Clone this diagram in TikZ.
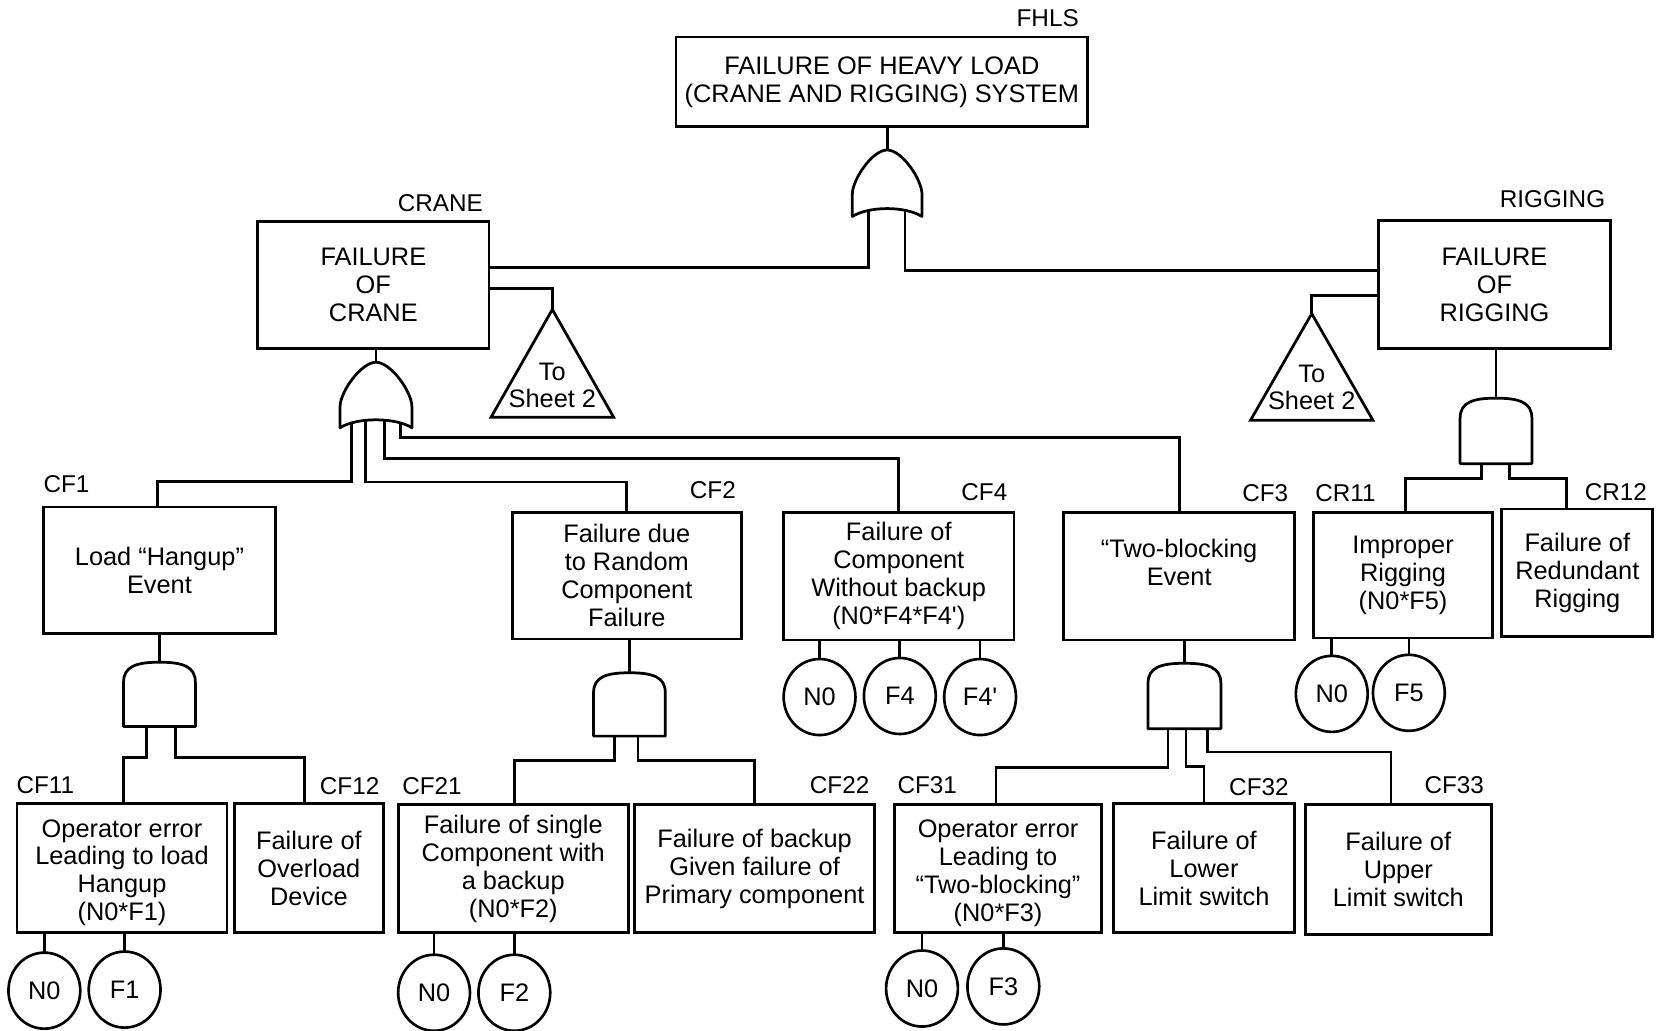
\documentclass[tikz,border=0pt]{standalone}
\usepackage{fontspec}
\setmainfont{Liberation Sans}
\usetikzlibrary{shapes.geometric}
\tikzset{
  box/.style={draw, line width=2.6pt, rectangle, inner sep=0pt, outer sep=0pt, align=center, font=\fontsize{24}{26.5}\selectfont},
  lbl/.style={inner sep=0pt, font=\fontsize{23}{26}\selectfont},
  evt/.style={draw, ellipse, line width=2.5pt, minimum width=68pt, minimum height=72pt, inner sep=0pt, outer sep=0pt, font=\fontsize{24}{26}\selectfont},
  gatebox/.style={minimum width=68pt, minimum height=62pt, inner sep=0pt, outer sep=0pt},
  gateline/.style={draw=black, fill=white, line width=2.6pt, line join=round},
  conn/.style={line width=2.6pt},
  tritext/.style={inner sep=0pt, align=center, font=\fontsize{24}{25.5}\selectfont},
  triline/.style={line width=2.6pt, line join=miter},
}
\newcommand\orshape[1]{\draw[gateline] (#1.north) .. controls ([xshift=-14pt]#1.north) and ([yshift=-28pt]#1.north west) .. ([yshift=-42pt]#1.north west) -- (#1.south west) .. controls ([xshift=16pt,yshift=10pt]#1.south west) and ([xshift=-16pt,yshift=10pt]#1.south east) .. (#1.south east) -- ([yshift=-42pt]#1.north east) .. controls ([yshift=-28pt]#1.north east) and ([xshift=14pt]#1.north) .. (#1.north) -- cycle;}
\newcommand\andshape[1]{\draw[gateline] (#1.south west) -- ([yshift=-19pt]#1.north west) .. controls ([yshift=-4pt]#1.north west) and ([xshift=12pt]#1.north west) .. (#1.north) .. controls ([xshift=-12pt]#1.north east) and ([yshift=-4pt]#1.north east) .. ([yshift=-19pt]#1.north east) -- (#1.south east) -- cycle;}
\begin{document}
\begin{tikzpicture}[x=1pt, y=-1pt]
\fill[white] (0,0) rectangle (1568,976);
\useasboundingbox (0,0) rectangle (1568,976);

% ---------- boxes ----------
\node[box, minimum width=390pt, minimum height=85pt] (fhls) at (835,77.5) {FAILURE OF HEAVY LOAD\\(CRANE AND RIGGING) SYSTEM};
\node[box, minimum width=219pt, minimum height=120pt] (crane) at (353.5,270) {FAILURE\\OF\\CRANE};
\node[box, minimum width=220pt, minimum height=121pt] (rigging) at (1415,269.5) {FAILURE\\OF\\RIGGING};
\node[box, minimum width=220pt, minimum height=120pt] (cf1) at (151,540) {Load “Hangup”\\Event};
\node[box, minimum width=217pt, minimum height=120pt] (cf2) at (593.5,545) {Failure due\\to Random\\Component\\Failure};
\node[box, minimum width=218pt, minimum height=121pt] (cf4) at (851,545.5) {Failure of\\Component\\Without backup\\(N0*F4*F4\textquotesingle)};
\node[box, minimum width=219pt, minimum height=121pt] (cf3) at (1116.5,545.5) {“Two-blocking\\Event\\\mbox{}};
\node[box, minimum width=169pt, minimum height=119pt] (cr11) at (1328.5,544.5) {Improper\\Rigging\\(N0*F5)};
\node[box, minimum width=143pt, minimum height=121pt] (cr12) at (1493.5,542.5) {Failure of\\Redundant\\Rigging};
\node[box, minimum width=199pt, minimum height=122pt] (cf11) at (115.5,822) {\mbox{}\\[-1pt]Operator error\\Leading to load\\Hangup\\(N0*F1)};
\node[box, minimum width=141pt, minimum height=122pt] (cf12) at (292.5,822) {Failure of\\Overload\\Device};
\node[box, minimum width=218pt, minimum height=121pt] (cf21) at (486,822.5) {Failure of single\\Component with\\a backup\\(N0*F2)};
\node[box, minimum width=227pt, minimum height=121pt] (cf22) at (714.5,822.5) {Failure of backup\\Given failure of\\Primary component};
\node[box, minimum width=196pt, minimum height=121pt] (cf31) at (945,822.5) {\mbox{}\\[-1pt]Operator error\\Leading to\\“Two-blocking”\\(N0*F3)};
\node[box, minimum width=172pt, minimum height=122pt] (cf32) at (1140,822) {Failure of\\Lower\\Limit switch};
\node[box, minimum width=176pt, minimum height=123pt] (cf33) at (1324,823.5) {Failure of\\Upper\\Limit switch};

% ---------- labels ----------
\node[lbl] (lfhls) at (992,17) {FHLS};
\node[lbl] (lcrane) at (417,192) {CRANE};
\node[lbl] (lrig) at (1470,189) {RIGGING};
\node[lbl] (lcf1) at (63,458) {CF1};
\node[lbl] (lcf2) at (675,464) {CF2};
\node[lbl] (lcf4) at (932,466) {CF4};
\node[lbl] (lcf3) at (1198,467) {CF3};
\node[lbl] (lcr11) at (1274,467) {CR11};
\node[lbl] (lcr12) at (1530,466) {CR12};
\node[lbl] (lcf11) at (43,743) {CF11};
\node[lbl] (lcf12) at (331,744) {CF12};
\node[lbl] (lcf21) at (409,744) {CF21};
\node[lbl] (lcf22) at (795,743) {CF22};
\node[lbl] (lcf31) at (878,743) {CF31};
\node[lbl] (lcf32) at (1192,745) {CF32};
\node[lbl] (lcf33) at (1377,743) {CF33};

% ---------- basic events ----------
\node[evt] (e11a) at (42,938) {N0};
\node[evt] (e11b) at (118,937) {F1};
\node[evt] (e21a) at (411,940) {N0};
\node[evt] (e21b) at (487,940) {F2};
\node[evt] (e31a) at (873,936) {N0};
\node[evt] (e31b) at (950,934) {F3};
\node[evt] (e4a) at (776,660) {N0};
\node[evt] (e4b) at (852,659) {F4};
\node[evt] (e4c) at (928,660) {F4\textquotesingle};
\node[evt] (er1a) at (1261,657) {N0};
\node[evt] (er1b) at (1334,656) {F5};

% ---------- transfer triangles ----------
\node[tritext] (tri1) at (523,365) {To\\Sheet 2};
\node[tritext] (tri2) at (1242,367) {To\\Sheet 2};
\draw[triline] ([yshift=72pt]tri1.center) -- ([xshift=-58pt,yshift=-30pt]tri1.center) -- ([xshift=58pt,yshift=-30pt]tri1.center) -- cycle;
\draw[triline] ([yshift=70pt]tri2.center) -- ([xshift=-58pt,yshift=-31pt]tri2.center) -- ([xshift=58pt,yshift=-31pt]tri2.center) -- cycle;

% ---------- gate placeholders ----------
\node[gatebox, minimum width=66pt, minimum height=63pt] (g0) at (840,173.5) {};
\node[gatebox] (gcrane) at (356,374) {};
\node[gatebox, minimum height=61pt] (gcf1) at (151,657.5) {};
\node[gatebox, minimum height=60pt] (gcf2) at (596,667) {};
\node[gatebox, minimum width=69pt] (gcf3) at (1121.5,659) {};
\node[gatebox] (grig) at (1416.5,408) {};

% ---------- connectors ----------
\draw[conn] (g0.north) -- (g0.north |- fhls.south);
\draw[conn] ([xshift=-18pt]g0.center) |- ([yshift=17pt]crane.east);
\draw[conn] ([xshift=17pt]g0.center) |- ([yshift=13.5pt]rigging.west);
\draw[conn] ([yshift=-3pt]crane.east) -| ([yshift=72pt]tri1.center);
\draw[conn] ([yshift=-10pt]rigging.west) -| ([yshift=70pt]tri2.center);

\draw[conn] (gcrane.north) -- (gcrane.north |- crane.south);
\draw[conn] ([xshift=-23pt]gcrane.center) |- ([xshift=-2pt,yshift=24pt]cf1.north) -- ([xshift=-2pt]cf1.north);
\draw[conn] ([xshift=-10pt]gcrane.center) |- ([yshift=28.5pt]cf2.north) -- (cf2.north);
\draw[conn] ([xshift=8pt]gcrane.center) |- ([yshift=51pt]cf4.north) -- (cf4.north);
\draw[conn] ([xshift=23pt]gcrane.center) |- ([yshift=71pt]cf3.north) -- (cf3.north);

\draw[conn] (grig.north) -- (grig.north |- rigging.south);
\draw[conn] ([xshift=-13.5pt]grig.center) |- ([xshift=2.5pt,yshift=32pt]cr11.north) -- ([xshift=2.5pt]cr11.north);
\draw[conn] ([xshift=12.5pt]grig.center) |- ([xshift=-10.5pt,yshift=29pt]cr12.north) -- ([xshift=-10.5pt]cr12.north);

\draw[conn] (gcf1.north) -- (gcf1.north |- cf1.south);
\draw[conn] ([xshift=-12pt]gcf1.center) |- ([xshift=1.5pt,yshift=44pt]cf11.north) -- ([xshift=1.5pt]cf11.north);
\draw[conn] ([xshift=15pt]gcf1.center) |- ([xshift=-4.5pt,yshift=44pt]cf12.north) -- ([xshift=-4.5pt]cf12.north);

\draw[conn] (gcf2.north) -- (gcf2.north |- cf2.south);
\draw[conn] ([xshift=-14pt]gcf2.center) |- ([xshift=1pt,yshift=42pt]cf21.north) -- ([xshift=1pt]cf21.north);
\draw[conn] ([xshift=8pt]gcf2.center) |- ([yshift=42pt]cf22.north) -- (cf22.north);

\draw[conn] (gcf3.north) -- (gcf3.north |- cf3.south);
\draw[conn] ([xshift=-15.5pt]gcf3.center) |- ([xshift=-2pt,yshift=35pt]cf31.north) -- ([xshift=-2pt]cf31.north);
\draw[conn] ([xshift=1.5pt]gcf3.center) |- ([yshift=35pt]cf32.north) -- (cf32.north);
\draw[conn] ([xshift=21.5pt]gcf3.center) |- ([xshift=-7pt,yshift=50pt]cf33.north) -- ([xshift=-7pt]cf33.north);

\foreach \e/\b in {e11a/cf11, e11b/cf11, e21a/cf21, e21b/cf21, e31a/cf31, e31b/cf31, e4a/cf4, e4b/cf4, e4c/cf4, er1a/cr11, er1b/cr11}
  \draw[conn] (\e.north) -- (\e.north |- \b.south);

% ---------- gate shapes ----------
\orshape{g0}
\orshape{gcrane}
\andshape{gcf1}
\andshape{gcf2}
\andshape{gcf3}
\andshape{grig}
\end{tikzpicture}
\end{document}
